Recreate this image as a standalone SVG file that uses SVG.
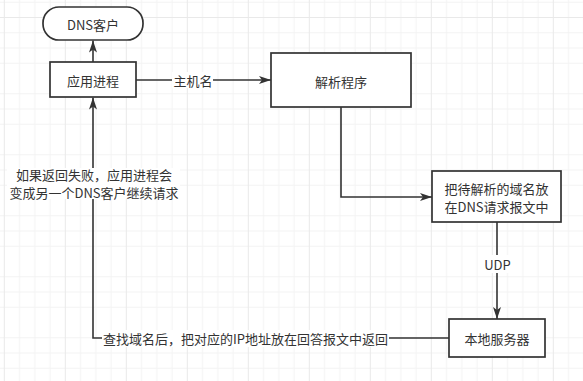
<svg xmlns="http://www.w3.org/2000/svg" width="583" height="381" viewBox="0 0 583 381">
<defs>
  <pattern id="grid" patternUnits="userSpaceOnUse" x="3.8" y="17" width="61" height="61">
    <path d="M15.75 0V61M31 0V61M46.25 0V61M0 15.75H61M0 31H61M0 46.25H61" stroke="#f3f3f3" stroke-width="1" fill="none"/>
    <path d="M0.5 0V61M0 0.5H61" stroke="#e9e9e9" stroke-width="1" fill="none"/>
  </pattern>
  <marker id="arr" viewBox="0 0 12 8" refX="12" refY="4" markerWidth="12" markerHeight="8" markerUnits="userSpaceOnUse" orient="auto">
    <path d="M0 0L12 4L0 8L3 4Z" fill="#333"/>
  </marker>
  <style>
    .box{fill:#fff;stroke:#333;stroke-width:1.7}
    .t{font-family:"Microsoft YaHei","Noto Sans CJK SC",sans-serif;font-size:13px;fill:#333;text-anchor:middle;dominant-baseline:central}
    .edge{fill:none;stroke:#333;stroke-width:1.6}
    .lbg{fill:#fff}
  </style>
</defs>
<rect width="583" height="381" fill="#fff"/>
<rect width="583" height="381" fill="url(#grid)"/>

<g id="connectors">
  <path class="edge" d="M93 62V40.5" marker-end="url(#arr)"/>
  <path class="edge" d="M136 80H271" marker-end="url(#arr)"/>
  <path class="edge" d="M341 107V197H432" marker-end="url(#arr)"/>
  <path class="edge" d="M497 222V319" marker-end="url(#arr)"/>
  <path class="edge" d="M449 338H93V97.5" marker-end="url(#arr)"/>
  <rect class="lbg" x="172" y="72" width="41" height="16"/>
  <text class="t" x="193" y="80">主机名</text>
  <rect class="lbg" x="484" y="255" width="27" height="18"/>
  <text class="t" x="497.5" y="264">UDP</text>
  <rect class="lbg" x="102" y="330" width="287" height="17"/>
  <text class="t" x="245.5" y="338">查找域名后，把对应的IP地址放在回答报文中返回</text>
  <rect class="lbg" x="7" y="168" width="173" height="31"/>
  <text class="t"><tspan x="94" y="174">如果返回失败，应用进程会</tspan><tspan x="94" y="192">变成另一个DNS客户继续请求</tspan></text>
</g>

<g id="dns-client">
  <rect class="box" x="43" y="7" width="100" height="33" rx="16" ry="16"/>
  <text class="t" x="93" y="24">DNS客户</text>
</g>
<g id="app-process">
  <rect class="box" x="50" y="62" width="86" height="35"/>
  <text class="t" x="93" y="80">应用进程</text>
</g>
<g id="resolver">
  <rect class="box" x="271" y="53" width="140" height="54"/>
  <text class="t" x="341" y="81">解析程序</text>
</g>
<g id="dns-request">
  <rect class="box" x="432" y="171" width="129" height="51"/>
  <text class="t"><tspan x="496.5" y="187.6">把待解析的域名放</tspan><tspan x="496.5" y="205.6">在DNS请求报文中</tspan></text>
</g>
<g id="local-server">
  <rect class="box" x="449" y="319" width="96" height="38"/>
  <text class="t" x="497" y="338.3">本地服务器</text>
</g>
</svg>
